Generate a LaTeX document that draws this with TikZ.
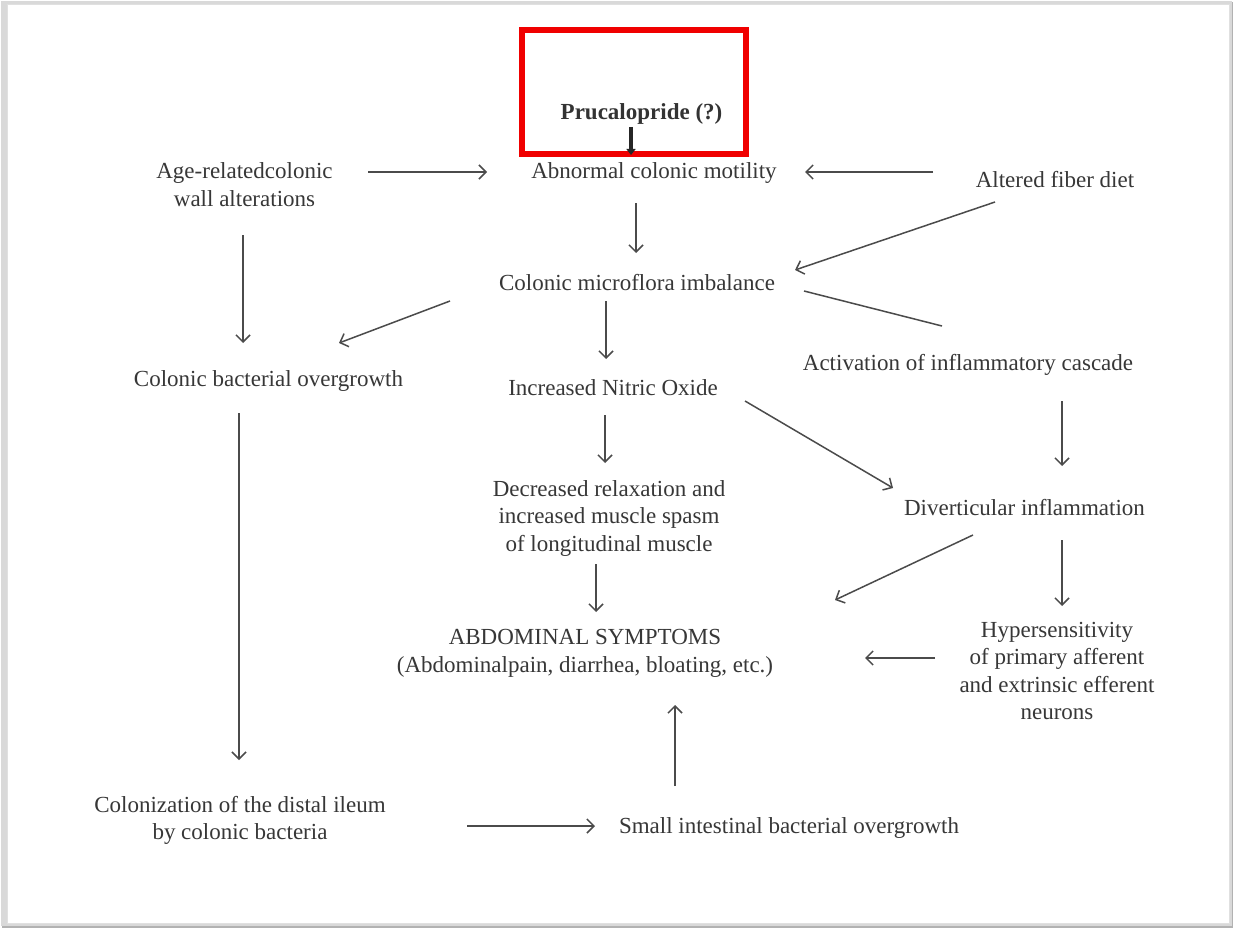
\documentclass[tikz,border=0pt]{standalone}
\usepackage{fontspec}
\setmainfont{Liberation Serif}
\usetikzlibrary{arrows.meta}
\definecolor{txt}{RGB}{55,55,55}
\definecolor{ln}{RGB}{75,75,75}
\definecolor{redbox}{RGB}{240,0,0}
\begin{document}
\begin{tikzpicture}[x=1pt,y=-1pt,
  lbl/.style={inner sep=0pt, text=txt, font=\fontsize{23}{27.5}\selectfont, align=center},
  lblbold/.style={inner sep=0pt, text=black!80, font=\bfseries\fontsize{23}{27.5}\selectfont},
  conn/.style={draw=ln, line width=1.5pt, -{Straight Barb[length=7pt,width=14pt,line width=1.5pt]}},
  plain/.style={draw=ln, line width=1.5pt},
  thick arrow/.style={draw=black!85, line width=3.5pt, -{Triangle[length=6pt,width=9pt]}},
]
\useasboundingbox (0,0) rectangle (1233,928);
% frame with shadow
\fill[black!30] (2,2) rectangle (1233,928);
\fill[black!15] (1,1) rectangle (1232,926);
\fill[white] (7,4) rectangle (1229,923);
\draw[black!12, line width=0.8pt] (7,4) rectangle (1229,923);

% nodes
\node[lblbold, anchor=base] (pru) at (641.5,120) {Prucalopride (?)};
\node[lbl, anchor=base] (abn) at (654,178.5) {Abnormal colonic motility};
\node[lbl] (age) at (244.5,184.5) {Age-relatedcolonic\\wall alterations};
\node[lbl, anchor=base] (fib) at (1055,187) {Altered fiber diet};
\node[lbl, anchor=base] (mic) at (637,290) {Colonic microflora imbalance};
\node[lbl, anchor=base] (act) at (968,370) {Activation of inflammatory cascade};
\node[lbl, anchor=base] (cbo) at (268.5,386) {Colonic bacterial overgrowth};
\node[lbl, anchor=base] (no) at (613,395) {Increased Nitric Oxide};
\node[lbl, anchor=base] (div) at (1024.5,515) {Diverticular inflammation};
\node[lbl] (dec) at (609,518) {Decreased relaxation and\\increased muscle spasm\\of longitudinal muscle};
\node[lbl] (abd) at (585,653.5) {ABDOMINAL SYMPTOMS\\(Abdominalpain, diarrhea, bloating, etc.)};
\node[lbl] (hyp) at (1057,671) {Hypersensitivity\\of primary afferent\\and extrinsic efferent\\neurons};
\node[lbl] (col) at (240,820.5) {Colonization of the distal ileum\\by colonic bacteria};
\node[lbl, anchor=base] (sibo) at (789,833) {Small intestinal bacterial overgrowth};

% red highlight box
\draw[redbox, line width=6pt] (522,30) rectangle (746,154);

% connector end points
\coordinate (pruS) at (631,127);   \coordinate (pruE) at (631,155);
\coordinate (ageE1) at (368,172);  \coordinate (abnW) at (487,172);
\coordinate (fibW) at (933,172);   \coordinate (abnE) at (805,172);
\coordinate (abnS) at (636,203);   \coordinate (micN) at (636,253);
\coordinate (fibS) at (995,202);   \coordinate (micE) at (795,270);
\coordinate (micE2) at (804,291);  \coordinate (actN) at (942,326);
\coordinate (micW) at (450,301);   \coordinate (cboE) at (339,343);
\coordinate (ageS) at (243,235);   \coordinate (cboN) at (243,343);
\coordinate (micS) at (606,301);   \coordinate (noN) at (606,359);
\coordinate (noE) at (745,401);    \coordinate (divW) at (893,488);
\coordinate (actS) at (1062,401);  \coordinate (divN) at (1062,466);
\coordinate (noS) at (605,415);    \coordinate (decN) at (605,463);
\coordinate (decS) at (596,564);   \coordinate (abdN) at (596,612);
\coordinate (divSW) at (973,535);  \coordinate (abdE1) at (835,600);
\coordinate (divS) at (1062,540);  \coordinate (hypN) at (1062,606);
\coordinate (hypW) at (935,658);   \coordinate (abdE2) at (865,658);
\coordinate (cboS) at (239,413);   \coordinate (colN) at (239,760);
\coordinate (colE) at (467,826);   \coordinate (siboW) at (595,826);
\coordinate (siboN) at (675,786);  \coordinate (abdS) at (675,705);

% connectors
\draw[thick arrow] (pruS) -- (pruE);
\draw[conn] (ageE1) -- (abnW);
\draw[conn] (fibW) -- (abnE);
\draw[conn] (abnS) -- (micN);
\draw[conn] (fibS) -- (micE);
\draw[plain] (micE2) -- (actN);
\draw[conn] (micW) -- (cboE);
\draw[conn] (ageS) -- (cboN);
\draw[conn] (micS) -- (noN);
\draw[conn] (noE) -- (divW);
\draw[conn] (actS) -- (divN);
\draw[conn] (noS) -- (decN);
\draw[conn] (decS) -- (abdN);
\draw[conn] (divSW) -- (abdE1);
\draw[conn] (divS) -- (hypN);
\draw[conn] (hypW) -- (abdE2);
\draw[conn] (cboS) -- (colN);
\draw[conn] (colE) -- (siboW);
\draw[conn] (siboN) -- (abdS);
\end{tikzpicture}
\end{document}
